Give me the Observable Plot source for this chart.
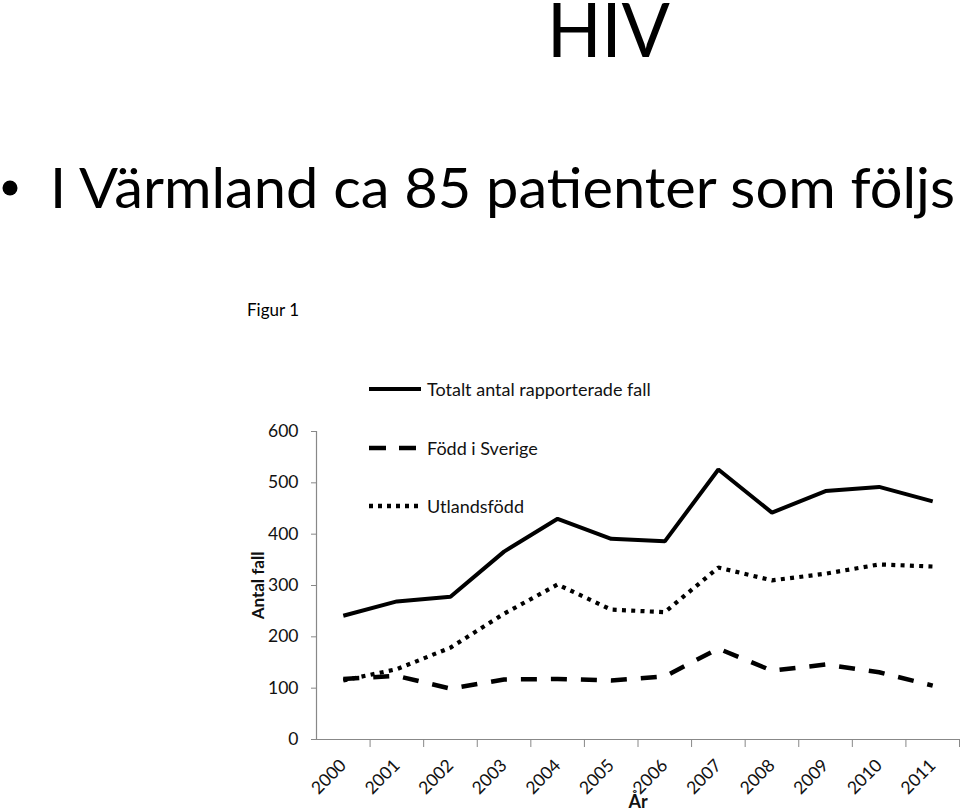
<!DOCTYPE html>
<html>
<head>
<meta charset="utf-8">
<script src="https://cdn.jsdelivr.net/npm/d3@7"></script>
<script src="https://cdn.jsdelivr.net/npm/@observablehq/plot@0.6"></script>
<style>
  html, body { margin: 0; padding: 0; background: #fff; }
  #page { position: relative; width: 960px; height: 812px; overflow: hidden; background: #fff; font-family: Lato, "Open Sans", sans-serif; }
  #chart { position: absolute; left: 0; top: 0; }
  #overlay { position: absolute; left: 0; top: 0; pointer-events: none; }
</style>
</head>
<body>
<div id="page">
  <div id="chart"></div>
  <svg id="overlay" width="960" height="812"></svg>
</div>
<script>
// ---------- data ----------
const years = [2000, 2001, 2002, 2003, 2004, 2005, 2006, 2007, 2008, 2009, 2010, 2011];
const seriesNames = ["Totalt antal rapporterade fall", "Född i Sverige", "Utlandsfödd"];
const totalCases = [241, 269, 278, 366, 430, 391, 386, 526, 442, 484, 492, 464];
const bornInSweden = [118, 124, 99, 117, 118, 115, 123, 177, 134, 146, 131, 105];
const bornAbroad = [115, 137, 179, 245, 302, 253, 248, 335, 310, 323, 341, 337];
const yTicks = [0, 100, 200, 300, 400, 500, 600];
const titleText = "HIV";
const bulletText = "I Värmland ca 85 patienter som följs";
const figureLabel = "Figur 1";
const xAxisLabel = "År";
const yAxisLabel = "Antal fall";

// ---------- styles ----------
const lineStyles = {
  "Totalt antal rapporterade fall": {strokeWidth: 4, dash: null},
  "Född i Sverige": {strokeWidth: 4.5, dash: "16,14"},
  "Utlandsfödd": {strokeWidth: 4.2, dash: "4,5.3"}
};
const legendStyles = {
  "Totalt antal rapporterade fall": {dash: null},
  "Född i Sverige": {dash: "17,13"},
  "Utlandsfödd": {dash: "4,5"}
};
const axisGray = "#888";

const seriesValues = [totalCases, bornInSweden, bornAbroad];
const rows = [];
seriesNames.forEach((name, si) => {
  years.forEach((yr, i) => rows.push({series: name, year: yr, value: seriesValues[si][i]}));
});
const boundaries = years.map(y => y + 0.5);

const lineMarks = seriesNames.slice().reverse().map(name => Plot.line(rows.filter(r => r.series === name), {
  x: "year", y: "value", stroke: "black",
  strokeWidth: lineStyles[name].strokeWidth,
  strokeDasharray: lineStyles[name].dash || undefined,
  strokeLinecap: "butt", strokeLinejoin: "miter"
}));

const chart = Plot.plot({
  width: 960,
  height: 812,
  marginTop: 431,
  marginBottom: 73,
  marginLeft: 316,
  marginRight: 1,
  style: {fontFamily: "Lato, 'Open Sans', sans-serif", fontSize: "17.5px", color: "#111", background: "transparent"},
  x: {type: "linear", domain: [years[0] - 0.5, years[years.length - 1] + 0.5]},
  y: {domain: [0, 600]},
  marks: [
    Plot.ruleY([0], {stroke: axisGray, strokeWidth: 1.2}),
    Plot.ruleX([years[0] - 0.5], {stroke: axisGray, strokeWidth: 1.2}),
    Plot.axisY({ticks: yTicks, tickSize: 5, tickPadding: 13, stroke: axisGray, label: null}),
    Plot.axisX({ticks: boundaries, tickSize: 8, tickFormat: () => "", stroke: axisGray, label: null}),
    Plot.axisX({ticks: years, tickSize: 0, tickPadding: 23, tickRotate: -45, tickFormat: d => String(d), label: null}),
    Plot.text([xAxisLabel], {frameAnchor: "bottom", textAnchor: "middle", dy: 68, lineAnchor: "bottom", fontWeight: "bold", fontSize: 18}),
    Plot.text([yAxisLabel], {frameAnchor: "left", textAnchor: "middle", lineAnchor: "middle", rotate: -90, dx: -58, fontWeight: "bold", fontSize: 17}),
    ...lineMarks
  ]
});
document.getElementById("chart").appendChild(chart);

// ---------- overlay: slide title, bullet, figure label, legend ----------
const ns = "http://www.w3.org/2000/svg";
const overlay = document.getElementById("overlay");
function el(tag, attrs, parent, text) {
  const e = document.createElementNS(ns, tag);
  for (const k in attrs) if (attrs[k] != null) e.setAttribute(k, attrs[k]);
  if (text != null) e.textContent = text;
  (parent || overlay).appendChild(e);
  return e;
}
const ff = "Lato, 'Open Sans', sans-serif";
el("text", {x: 547, y: 57, "font-family": ff, "font-size": 75, "font-weight": 400, textLength: 123, lengthAdjust: "spacingAndGlyphs", fill: "#000"}, null, titleText);
el("circle", {cx: 10, cy: 188, r: 7.5, fill: "#000"});
el("text", {x: 50, y: 208, "font-family": ff, "font-size": 56, textLength: 905, lengthAdjust: "spacingAndGlyphs", fill: "#000"}, null, bulletText);
el("text", {x: 247, y: 316, "font-family": ff, "font-size": 17, fill: "#000"}, null, figureLabel);

const legendY = [389, 448, 506];
seriesNames.forEach((name, i) => {
  el("line", {x1: 369, x2: 421, y1: legendY[i], y2: legendY[i], stroke: "#000",
    "stroke-width": name === seriesNames[0] ? 4 : 4.5,
    "stroke-dasharray": legendStyles[name].dash});
  el("text", {x: 427, y: legendY[i] + 7, "font-family": ff, "font-size": 18, fill: "#111"}, null, name);
});
</script>
</body>
</html>
